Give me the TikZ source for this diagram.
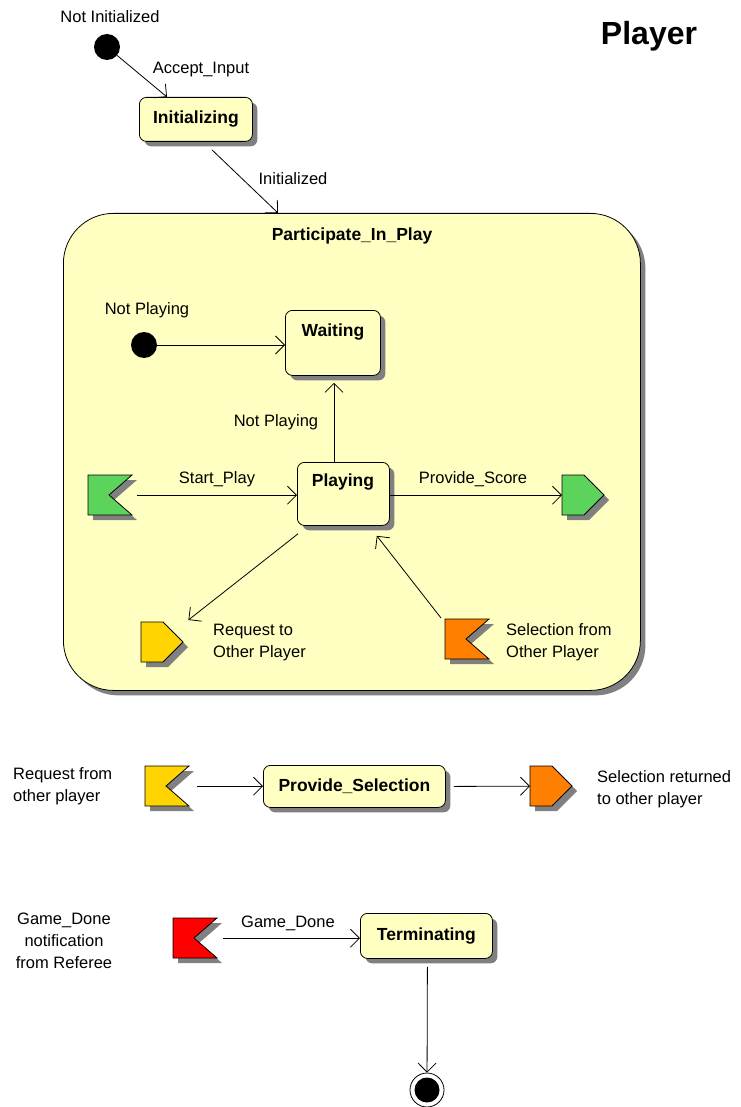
\documentclass[tikz,border=0pt]{standalone}
\usepackage{fontspec}
\setmainfont{Liberation Sans}
\usetikzlibrary{arrows.meta,shadows,calc}
\definecolor{stfill}{RGB}{255,255,194}
\definecolor{shd}{RGB}{128,128,128}
\definecolor{fgreen}{RGB}{92,212,92}
\definecolor{fyellow}{RGB}{255,212,0}
\definecolor{forange}{RGB}{255,128,0}
\definecolor{fred}{RGB}{255,0,0}
% receive-signal flag: name, left x, top y, colour
\newcommand{\recvflag}[4]{%
  \fill[shd] (#2+5,#3+5) -- ++(44,0) -- ++(-23,20) -- ++(23,20) -- ++(-44,0) -- cycle;
  \filldraw[fill=#4, line width=0.8pt] (#2,#3) -- ++(44,0) -- ++(-23,20) -- ++(23,20) -- ++(-44,0) -- cycle;
  \node[inner sep=0, minimum width=44pt, minimum height=40pt, anchor=north west] (#1) at (#2,#3) {};
}
% send-signal pentagon: name, left x, top y, colour
\newcommand{\sendflag}[4]{%
  \fill[shd] (#2+5,#3+5) -- ++(22,0) -- ++(20,20) -- ++(-20,20) -- ++(-22,0) -- cycle;
  \filldraw[fill=#4, line width=0.8pt] (#2,#3) -- ++(22,0) -- ++(20,20) -- ++(-20,20) -- ++(-22,0) -- cycle;
  \node[inner sep=0, minimum width=42pt, minimum height=40pt, anchor=north west] (#1) at (#2,#3) {};
}
\tikzset{
  state/.style={draw, fill=stfill, line width=0.8pt, rounded corners=7pt, inner sep=0, anchor=north west,
    drop shadow={shadow xshift=5pt, shadow yshift=-5pt, fill=shd, opacity=1}},
  txt/.style={inner sep=0, font=\fontsize{16.5}{22}\selectfont},
  btxt/.style={inner sep=0, font=\bfseries\fontsize{17.5}{21}\selectfont},
  tr/.style={-{Straight Barb[length=9pt,width=18pt]}, line width=0.8pt},
  dot/.style={circle, fill=black, minimum size=26pt, inner sep=0},
}
\begin{document}
\begin{tikzpicture}[x=1pt, y=-1pt]
\useasboundingbox (0,0) rectangle (740,1107);

% title
\node[inner sep=0, font=\bfseries\fontsize{32}{36}\selectfont] (title) at (649,36) {Player};

% top part
\node[txt] (t-notinit) at (110,17) {Not Initialized};
\node[dot] (i0) at (107,47) {};
\node[state, minimum width=113pt, minimum height=44pt] (init) at (139,97) {};
\node[btxt] (init-t) at (init.center) {Initializing};
\draw[tr] (i0) -- ($(init.north west)+(28,0)$);
\node[txt] (l-accept) at (201,70) {Accept\_Input};

% composite state
\node[draw, fill=stfill, line width=0.8pt, rounded corners=50pt, anchor=north west,
  minimum width=577pt, minimum height=477pt, inner sep=0,
  drop shadow={shadow xshift=5pt, shadow yshift=-5pt, fill=shd, opacity=1}] (pip) at (63,213) {};
\node[btxt] (pip-t) at (352,236) {Participate\_In\_Play};
\draw[tr] ($(init.south)+(16,8)$) -- ($(pip.north west)+(215,0)$);
\node[txt] (l-initd) at (293,179) {Initialized};

% Waiting / Playing
\node[txt] (t-np) at (147,310) {Not Playing};
\node[dot] (np0) at (144,345) {};
\node[state, minimum width=95pt, minimum height=65pt] (wait) at (285,310) {};
\node[btxt] (wait-t) at (333,332) {Waiting};
\draw[tr] (np0) -- (np0 -| wait.west);

\node[state, minimum width=92pt, minimum height=63pt] (play) at (297,462) {};
\node[btxt] (play-t) at (343,482) {Playing};
\draw[tr] ($(play.north west)+(37,0)$) -- ($(wait.south west)+(49,7)$);
\node[txt] (l-np2) at (276,422) {Not Playing};

\recvflag{gflag}{88}{475}{fgreen}
\draw[tr] ($(gflag.east)+(5,0)$) -- (gflag.east -| play.west);
\node[txt] (l-start) at (217,479) {Start\_Play};

\sendflag{gsend}{562}{475}{fgreen}
\draw[tr] (gsend.west -| play.east) -- (gsend.west);
\node[txt] (l-score) at (473,479) {Provide\_Score};

\sendflag{ysend}{141}{622}{fyellow}
\draw[tr] ($(play.south west)+(1,8)$) -- ($(ysend.north east)+(5,-2)$);
\node[txt, align=left, anchor=west] (t-req) at (213,643) {Request to\\Other Player};

\recvflag{oflag}{445}{619}{forange}
\draw[tr] ($(oflag.north west)+(-4,-1)$) -- ($(play.south east)+(-13,10)$);
\node[txt, align=left, anchor=west] (t-sel) at (506,642) {Selection from\\Other Player};

% Provide_Selection
\node[txt, align=left, anchor=west] (t-reqfrom) at (13,786) {Request from\\other player};
\recvflag{yflag}{145}{766}{fyellow}
\node[state, minimum width=182pt, minimum height=42pt] (ps) at (263,765) {};
\node[btxt] (ps-t) at (ps.center) {Provide\_Selection};
\draw[tr] ($(yflag.east)+(8,0)$) -- (yflag.east -| ps.west);
\sendflag{osend}{530}{766}{forange}
\draw[tr] ($(ps.east)+(8,0)$) -- (osend.west);
\node[txt, align=left, anchor=west] (t-selret) at (597,789) {Selection returned\\to other player};

% Terminating
\node[txt, align=center] (t-gd) at (64,941) {Game\_Done\\notification\\from Referee};
\recvflag{rflag}{173}{918}{fred}
\node[state, minimum width=132pt, minimum height=45pt] (term) at (360,913) {};
\node[btxt] (term-t) at (term.center) {Terminating};
\draw[tr] ($(rflag.east)+(6,0)$) -- (rflag.east -| term.west);
\node[txt] (l-gd) at (288,923) {Game\_Done};

\node[circle, draw, line width=0.8pt, minimum size=34pt, inner sep=0] (fin) at (427,1090) {};
\fill (fin.center) circle (12.5);
\draw[tr] ($(term.south)+(1,8)$) -- (fin);
\end{tikzpicture}
\end{document}
